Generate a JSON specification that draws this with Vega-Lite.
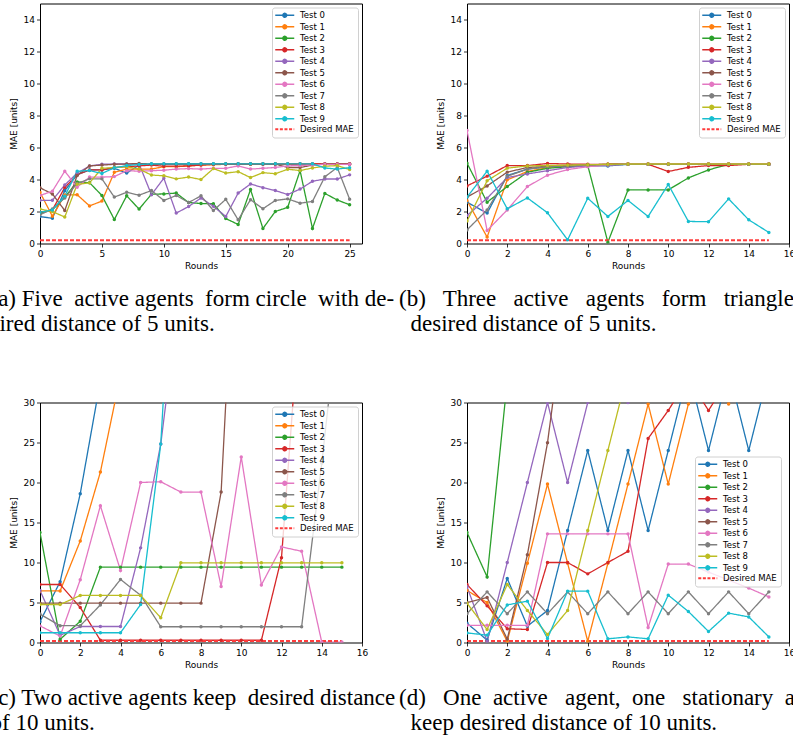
{
"$schema": "https://vega.github.io/schema/vega-lite/v6.json",
"autosize": {"type": "none"},
"padding": {"left": 40, "top": 3.5, "right": 753, "bottom": 739.5},
"background": "white",
"columns": 2,
"spacing": {"row": 159, "column": 105},
"bounds": "flush",
"resolve": {"scale": {"color": "independent"}, "legend": {"color": "independent"}},
"datasets": {
"a": [
{"s":"Test 0","r":0,"v":1.68},{"s":"Test 0","r":1,"v":1.58},{"s":"Test 0","r":2,"v":3.3},{"s":"Test 0","r":3,"v":4.3},{"s":"Test 0","r":4,"v":4.6},{"s":"Test 0","r":5,"v":4.6},{"s":"Test 0","r":6,"v":4.7},{"s":"Test 0","r":7,"v":4.4},{"s":"Test 0","r":8,"v":4.9},{"s":"Test 0","r":9,"v":4.95},{"s":"Test 0","r":10,"v":4.95},{"s":"Test 0","r":11,"v":4.97},{"s":"Test 0","r":12,"v":4.97},{"s":"Test 0","r":13,"v":4.97},{"s":"Test 0","r":14,"v":4.97},{"s":"Test 0","r":15,"v":4.97},{"s":"Test 0","r":16,"v":4.97},{"s":"Test 0","r":17,"v":4.97},{"s":"Test 0","r":18,"v":4.97},{"s":"Test 0","r":19,"v":4.97},{"s":"Test 0","r":20,"v":4.97},{"s":"Test 0","r":21,"v":4.97},{"s":"Test 0","r":22,"v":4.97},{"s":"Test 0","r":23,"v":4.97},{"s":"Test 0","r":24,"v":4.97},{"s":"Test 0","r":25,"v":4.97},
{"s":"Test 1","r":0,"v":3.2},{"s":"Test 1","r":1,"v":1.7},{"s":"Test 1","r":2,"v":3.03},{"s":"Test 1","r":3,"v":3.05},{"s":"Test 1","r":4,"v":2.35},{"s":"Test 1","r":5,"v":2.65},{"s":"Test 1","r":6,"v":4.45},{"s":"Test 1","r":7,"v":4.65},{"s":"Test 1","r":8,"v":4.65},{"s":"Test 1","r":9,"v":4.65},{"s":"Test 1","r":10,"v":4.8},{"s":"Test 1","r":11,"v":4.8},{"s":"Test 1","r":12,"v":4.85},{"s":"Test 1","r":13,"v":4.9},{"s":"Test 1","r":14,"v":4.92},{"s":"Test 1","r":15,"v":4.95},{"s":"Test 1","r":16,"v":4.95},{"s":"Test 1","r":17,"v":4.95},{"s":"Test 1","r":18,"v":4.97},{"s":"Test 1","r":19,"v":4.97},{"s":"Test 1","r":20,"v":4.97},{"s":"Test 1","r":21,"v":4.97},{"s":"Test 1","r":22,"v":4.97},{"s":"Test 1","r":23,"v":4.97},{"s":"Test 1","r":24,"v":4.97},{"s":"Test 1","r":25,"v":4.97},
{"s":"Test 2","r":0,"v":1.9},{"s":"Test 2","r":1,"v":2.1},{"s":"Test 2","r":2,"v":2.9},{"s":"Test 2","r":3,"v":3.85},{"s":"Test 2","r":4,"v":3.8},{"s":"Test 2","r":5,"v":3.0},{"s":"Test 2","r":6,"v":1.5},{"s":"Test 2","r":7,"v":2.98},{"s":"Test 2","r":8,"v":2.15},{"s":"Test 2","r":9,"v":3.08},{"s":"Test 2","r":10,"v":3.1},{"s":"Test 2","r":11,"v":3.15},{"s":"Test 2","r":12,"v":2.56},{"s":"Test 2","r":13,"v":2.5},{"s":"Test 2","r":14,"v":2.48},{"s":"Test 2","r":15,"v":1.56},{"s":"Test 2","r":16,"v":1.19},{"s":"Test 2","r":17,"v":3.37},{"s":"Test 2","r":18,"v":0.94},{"s":"Test 2","r":19,"v":2.0},{"s":"Test 2","r":20,"v":2.26},{"s":"Test 2","r":21,"v":4.55},{"s":"Test 2","r":22,"v":0.94},{"s":"Test 2","r":23,"v":3.13},{"s":"Test 2","r":24,"v":2.72},{"s":"Test 2","r":25,"v":2.42},
{"s":"Test 3","r":0,"v":1.95},{"s":"Test 3","r":1,"v":2.1},{"s":"Test 3","r":2,"v":3.5},{"s":"Test 3","r":3,"v":4.3},{"s":"Test 3","r":4,"v":4.6},{"s":"Test 3","r":5,"v":4.6},{"s":"Test 3","r":6,"v":4.75},{"s":"Test 3","r":7,"v":4.8},{"s":"Test 3","r":8,"v":4.85},{"s":"Test 3","r":9,"v":4.9},{"s":"Test 3","r":10,"v":4.83},{"s":"Test 3","r":11,"v":4.83},{"s":"Test 3","r":12,"v":4.85},{"s":"Test 3","r":13,"v":4.9},{"s":"Test 3","r":14,"v":4.95},{"s":"Test 3","r":15,"v":4.97},{"s":"Test 3","r":16,"v":4.97},{"s":"Test 3","r":17,"v":4.97},{"s":"Test 3","r":18,"v":4.97},{"s":"Test 3","r":19,"v":4.97},{"s":"Test 3","r":20,"v":4.97},{"s":"Test 3","r":21,"v":4.97},{"s":"Test 3","r":22,"v":4.97},{"s":"Test 3","r":23,"v":4.97},{"s":"Test 3","r":24,"v":4.97},{"s":"Test 3","r":25,"v":4.97},
{"s":"Test 4","r":0,"v":2.7},{"s":"Test 4","r":1,"v":2.7},{"s":"Test 4","r":2,"v":3.66},{"s":"Test 4","r":3,"v":4.4},{"s":"Test 4","r":4,"v":4.85},{"s":"Test 4","r":5,"v":4.95},{"s":"Test 4","r":6,"v":4.97},{"s":"Test 4","r":7,"v":4.97},{"s":"Test 4","r":8,"v":4.97},{"s":"Test 4","r":9,"v":3.05},{"s":"Test 4","r":10,"v":4.08},{"s":"Test 4","r":11,"v":1.9},{"s":"Test 4","r":12,"v":2.31},{"s":"Test 4","r":13,"v":2.84},{"s":"Test 4","r":14,"v":2.33},{"s":"Test 4","r":15,"v":1.69},{"s":"Test 4","r":16,"v":3.15},{"s":"Test 4","r":17,"v":3.72},{"s":"Test 4","r":18,"v":3.49},{"s":"Test 4","r":19,"v":3.31},{"s":"Test 4","r":20,"v":3.06},{"s":"Test 4","r":21,"v":3.4},{"s":"Test 4","r":22,"v":3.89},{"s":"Test 4","r":23,"v":4.03},{"s":"Test 4","r":24,"v":4.03},{"s":"Test 4","r":25,"v":4.29},
{"s":"Test 5","r":0,"v":3.48},{"s":"Test 5","r":1,"v":3.1},{"s":"Test 5","r":2,"v":2.06},{"s":"Test 5","r":3,"v":4.25},{"s":"Test 5","r":4,"v":4.85},{"s":"Test 5","r":5,"v":4.9},{"s":"Test 5","r":6,"v":4.95},{"s":"Test 5","r":7,"v":4.97},{"s":"Test 5","r":8,"v":5.0},{"s":"Test 5","r":9,"v":4.97},{"s":"Test 5","r":10,"v":4.97},{"s":"Test 5","r":11,"v":4.97},{"s":"Test 5","r":12,"v":4.97},{"s":"Test 5","r":13,"v":4.97},{"s":"Test 5","r":14,"v":4.97},{"s":"Test 5","r":15,"v":4.97},{"s":"Test 5","r":16,"v":4.97},{"s":"Test 5","r":17,"v":4.97},{"s":"Test 5","r":18,"v":4.97},{"s":"Test 5","r":19,"v":4.97},{"s":"Test 5","r":20,"v":4.75},{"s":"Test 5","r":21,"v":4.75},{"s":"Test 5","r":22,"v":4.9},{"s":"Test 5","r":23,"v":4.97},{"s":"Test 5","r":24,"v":4.97},{"s":"Test 5","r":25,"v":4.97},
{"s":"Test 6","r":0,"v":3.0},{"s":"Test 6","r":1,"v":3.27},{"s":"Test 6","r":2,"v":4.52},{"s":"Test 6","r":3,"v":3.52},{"s":"Test 6","r":4,"v":4.15},{"s":"Test 6","r":5,"v":4.15},{"s":"Test 6","r":6,"v":4.18},{"s":"Test 6","r":7,"v":4.55},{"s":"Test 6","r":8,"v":4.52},{"s":"Test 6","r":9,"v":4.55},{"s":"Test 6","r":10,"v":4.58},{"s":"Test 6","r":11,"v":4.65},{"s":"Test 6","r":12,"v":4.68},{"s":"Test 6","r":13,"v":4.65},{"s":"Test 6","r":14,"v":4.7},{"s":"Test 6","r":15,"v":4.7},{"s":"Test 6","r":16,"v":4.85},{"s":"Test 6","r":17,"v":4.65},{"s":"Test 6","r":18,"v":4.7},{"s":"Test 6","r":19,"v":4.75},{"s":"Test 6","r":20,"v":4.85},{"s":"Test 6","r":21,"v":4.88},{"s":"Test 6","r":22,"v":4.9},{"s":"Test 6","r":23,"v":4.95},{"s":"Test 6","r":24,"v":4.95},{"s":"Test 6","r":25,"v":4.95},
{"s":"Test 7","r":0,"v":1.8},{"s":"Test 7","r":1,"v":2.15},{"s":"Test 7","r":2,"v":2.85},{"s":"Test 7","r":3,"v":3.75},{"s":"Test 7","r":4,"v":4.04},{"s":"Test 7","r":5,"v":4.04},{"s":"Test 7","r":6,"v":2.9},{"s":"Test 7","r":7,"v":3.2},{"s":"Test 7","r":8,"v":3.02},{"s":"Test 7","r":9,"v":3.31},{"s":"Test 7","r":10,"v":2.69},{"s":"Test 7","r":11,"v":3.0},{"s":"Test 7","r":12,"v":2.56},{"s":"Test 7","r":13,"v":2.98},{"s":"Test 7","r":14,"v":2.06},{"s":"Test 7","r":15,"v":2.76},{"s":"Test 7","r":16,"v":1.48},{"s":"Test 7","r":17,"v":2.74},{"s":"Test 7","r":18,"v":2.17},{"s":"Test 7","r":19,"v":2.69},{"s":"Test 7","r":20,"v":2.79},{"s":"Test 7","r":21,"v":2.52},{"s":"Test 7","r":22,"v":2.63},{"s":"Test 7","r":23,"v":4.17},{"s":"Test 7","r":24,"v":4.75},{"s":"Test 7","r":25,"v":2.77},
{"s":"Test 8","r":0,"v":2.15},{"s":"Test 8","r":1,"v":2.0},{"s":"Test 8","r":2,"v":1.65},{"s":"Test 8","r":3,"v":3.7},{"s":"Test 8","r":4,"v":3.79},{"s":"Test 8","r":5,"v":4.7},{"s":"Test 8","r":6,"v":4.75},{"s":"Test 8","r":7,"v":4.8},{"s":"Test 8","r":8,"v":4.65},{"s":"Test 8","r":9,"v":4.28},{"s":"Test 8","r":10,"v":4.23},{"s":"Test 8","r":11,"v":4.04},{"s":"Test 8","r":12,"v":4.15},{"s":"Test 8","r":13,"v":4.0},{"s":"Test 8","r":14,"v":4.68},{"s":"Test 8","r":15,"v":4.4},{"s":"Test 8","r":16,"v":4.49},{"s":"Test 8","r":17,"v":4.12},{"s":"Test 8","r":18,"v":4.43},{"s":"Test 8","r":19,"v":4.36},{"s":"Test 8","r":20,"v":4.64},{"s":"Test 8","r":21,"v":4.56},{"s":"Test 8","r":22,"v":4.72},{"s":"Test 8","r":23,"v":4.83},{"s":"Test 8","r":24,"v":4.87},{"s":"Test 8","r":25,"v":4.62},
{"s":"Test 9","r":0,"v":1.95},{"s":"Test 9","r":1,"v":2.1},{"s":"Test 9","r":2,"v":2.96},{"s":"Test 9","r":3,"v":4.52},{"s":"Test 9","r":4,"v":4.56},{"s":"Test 9","r":5,"v":4.38},{"s":"Test 9","r":6,"v":4.73},{"s":"Test 9","r":7,"v":4.87},{"s":"Test 9","r":8,"v":4.94},{"s":"Test 9","r":9,"v":4.98},{"s":"Test 9","r":10,"v":4.98},{"s":"Test 9","r":11,"v":4.98},{"s":"Test 9","r":12,"v":4.98},{"s":"Test 9","r":13,"v":4.98},{"s":"Test 9","r":14,"v":4.98},{"s":"Test 9","r":15,"v":4.98},{"s":"Test 9","r":16,"v":4.98},{"s":"Test 9","r":17,"v":4.98},{"s":"Test 9","r":18,"v":4.98},{"s":"Test 9","r":19,"v":4.98},{"s":"Test 9","r":20,"v":4.98},{"s":"Test 9","r":21,"v":4.98},{"s":"Test 9","r":22,"v":4.98},{"s":"Test 9","r":23,"v":4.72},{"s":"Test 9","r":24,"v":4.65},{"s":"Test 9","r":25,"v":4.74},
{"s":"Desired MAE","r":0,"v":0.2},{"s":"Desired MAE","r":25,"v":0.2}
],
"b": [
{"s":"Test 0","r":0,"v":2.58},{"s":"Test 0","r":1,"v":1.9},{"s":"Test 0","r":2,"v":4.25},{"s":"Test 0","r":3,"v":4.65},{"s":"Test 0","r":4,"v":4.8},{"s":"Test 0","r":5,"v":4.82},{"s":"Test 0","r":6,"v":4.85},{"s":"Test 0","r":7,"v":4.85},{"s":"Test 0","r":8,"v":4.95},{"s":"Test 0","r":9,"v":4.95},{"s":"Test 0","r":10,"v":4.95},{"s":"Test 0","r":11,"v":4.95},{"s":"Test 0","r":12,"v":4.95},{"s":"Test 0","r":13,"v":4.95},{"s":"Test 0","r":14,"v":4.95},{"s":"Test 0","r":15,"v":4.95},
{"s":"Test 1","r":0,"v":2.68},{"s":"Test 1","r":1,"v":0.4},{"s":"Test 1","r":2,"v":3.98},{"s":"Test 1","r":3,"v":4.5},{"s":"Test 1","r":4,"v":4.75},{"s":"Test 1","r":5,"v":4.85},{"s":"Test 1","r":6,"v":4.9},{"s":"Test 1","r":7,"v":4.95},{"s":"Test 1","r":8,"v":4.97},{"s":"Test 1","r":9,"v":4.97},{"s":"Test 1","r":10,"v":4.97},{"s":"Test 1","r":11,"v":4.97},{"s":"Test 1","r":12,"v":4.97},{"s":"Test 1","r":13,"v":4.97},{"s":"Test 1","r":14,"v":4.97},{"s":"Test 1","r":15,"v":4.97},
{"s":"Test 2","r":0,"v":5.02},{"s":"Test 2","r":1,"v":2.58},{"s":"Test 2","r":2,"v":3.56},{"s":"Test 2","r":3,"v":4.45},{"s":"Test 2","r":4,"v":4.7},{"s":"Test 2","r":5,"v":4.8},{"s":"Test 2","r":6,"v":4.88},{"s":"Test 2","r":7,"v":0.08},{"s":"Test 2","r":8,"v":3.35},{"s":"Test 2","r":9,"v":3.35},{"s":"Test 2","r":10,"v":3.35},{"s":"Test 2","r":11,"v":4.1},{"s":"Test 2","r":12,"v":4.6},{"s":"Test 2","r":13,"v":4.95},{"s":"Test 2","r":14,"v":4.95},{"s":"Test 2","r":15,"v":4.95},
{"s":"Test 3","r":0,"v":3.6},{"s":"Test 3","r":1,"v":4.21},{"s":"Test 3","r":2,"v":4.87},{"s":"Test 3","r":3,"v":4.87},{"s":"Test 3","r":4,"v":5.0},{"s":"Test 3","r":5,"v":4.97},{"s":"Test 3","r":6,"v":4.95},{"s":"Test 3","r":7,"v":4.95},{"s":"Test 3","r":8,"v":4.97},{"s":"Test 3","r":9,"v":4.95},{"s":"Test 3","r":10,"v":4.5},{"s":"Test 3","r":11,"v":4.76},{"s":"Test 3","r":12,"v":4.87},{"s":"Test 3","r":13,"v":4.87},{"s":"Test 3","r":14,"v":4.95},{"s":"Test 3","r":15,"v":4.95},
{"s":"Test 4","r":0,"v":1.75},{"s":"Test 4","r":1,"v":2.83},{"s":"Test 4","r":2,"v":4.12},{"s":"Test 4","r":3,"v":4.35},{"s":"Test 4","r":4,"v":4.55},{"s":"Test 4","r":5,"v":4.75},{"s":"Test 4","r":6,"v":4.85},{"s":"Test 4","r":7,"v":4.9},{"s":"Test 4","r":8,"v":4.95},{"s":"Test 4","r":9,"v":4.95},{"s":"Test 4","r":10,"v":4.95},{"s":"Test 4","r":11,"v":4.95},{"s":"Test 4","r":12,"v":4.95},{"s":"Test 4","r":13,"v":4.95},{"s":"Test 4","r":14,"v":4.95},{"s":"Test 4","r":15,"v":4.95},
{"s":"Test 5","r":0,"v":2.9},{"s":"Test 5","r":1,"v":3.6},{"s":"Test 5","r":2,"v":4.46},{"s":"Test 5","r":3,"v":4.75},{"s":"Test 5","r":4,"v":4.82},{"s":"Test 5","r":5,"v":4.88},{"s":"Test 5","r":6,"v":4.92},{"s":"Test 5","r":7,"v":4.95},{"s":"Test 5","r":8,"v":4.97},{"s":"Test 5","r":9,"v":4.97},{"s":"Test 5","r":10,"v":4.97},{"s":"Test 5","r":11,"v":4.97},{"s":"Test 5","r":12,"v":4.97},{"s":"Test 5","r":13,"v":4.97},{"s":"Test 5","r":14,"v":4.97},{"s":"Test 5","r":15,"v":4.97},
{"s":"Test 6","r":0,"v":7.06},{"s":"Test 6","r":1,"v":0.81},{"s":"Test 6","r":2,"v":2.1},{"s":"Test 6","r":3,"v":3.56},{"s":"Test 6","r":4,"v":4.27},{"s":"Test 6","r":5,"v":4.62},{"s":"Test 6","r":6,"v":4.8},{"s":"Test 6","r":7,"v":4.9},{"s":"Test 6","r":8,"v":4.97},{"s":"Test 6","r":9,"v":4.97},{"s":"Test 6","r":10,"v":4.97},{"s":"Test 6","r":11,"v":4.97},{"s":"Test 6","r":12,"v":4.97},{"s":"Test 6","r":13,"v":4.97},{"s":"Test 6","r":14,"v":4.97},{"s":"Test 6","r":15,"v":4.97},
{"s":"Test 7","r":0,"v":0.85},{"s":"Test 7","r":1,"v":2.1},{"s":"Test 7","r":2,"v":4.2},{"s":"Test 7","r":3,"v":4.65},{"s":"Test 7","r":4,"v":4.8},{"s":"Test 7","r":5,"v":4.85},{"s":"Test 7","r":6,"v":4.9},{"s":"Test 7","r":7,"v":4.92},{"s":"Test 7","r":8,"v":4.95},{"s":"Test 7","r":9,"v":4.95},{"s":"Test 7","r":10,"v":4.95},{"s":"Test 7","r":11,"v":4.95},{"s":"Test 7","r":12,"v":4.95},{"s":"Test 7","r":13,"v":4.95},{"s":"Test 7","r":14,"v":4.95},{"s":"Test 7","r":15,"v":4.95},
{"s":"Test 8","r":0,"v":1.4},{"s":"Test 8","r":1,"v":3.92},{"s":"Test 8","r":2,"v":4.71},{"s":"Test 8","r":3,"v":4.85},{"s":"Test 8","r":4,"v":4.87},{"s":"Test 8","r":5,"v":4.9},{"s":"Test 8","r":6,"v":4.92},{"s":"Test 8","r":7,"v":4.95},{"s":"Test 8","r":8,"v":4.97},{"s":"Test 8","r":9,"v":4.97},{"s":"Test 8","r":10,"v":4.97},{"s":"Test 8","r":11,"v":4.97},{"s":"Test 8","r":12,"v":4.97},{"s":"Test 8","r":13,"v":4.97},{"s":"Test 8","r":14,"v":4.97},{"s":"Test 8","r":15,"v":4.97},
{"s":"Test 9","r":0,"v":2.9},{"s":"Test 9","r":1,"v":4.52},{"s":"Test 9","r":2,"v":2.17},{"s":"Test 9","r":3,"v":2.85},{"s":"Test 9","r":4,"v":1.92},{"s":"Test 9","r":5,"v":0.23},{"s":"Test 9","r":6,"v":2.83},{"s":"Test 9","r":7,"v":1.69},{"s":"Test 9","r":8,"v":2.69},{"s":"Test 9","r":9,"v":1.69},{"s":"Test 9","r":10,"v":3.69},{"s":"Test 9","r":11,"v":1.38},{"s":"Test 9","r":12,"v":1.36},{"s":"Test 9","r":13,"v":2.79},{"s":"Test 9","r":14,"v":1.48},{"s":"Test 9","r":15,"v":0.69},
{"s":"Desired MAE","r":0,"v":0.2},{"s":"Desired MAE","r":15,"v":0.2}
],
"c": [
{"s":"Test 0","r":0,"v":2.6},{"s":"Test 0","r":1,"v":7.6},{"s":"Test 0","r":2,"v":18.6},{"s":"Test 0","r":3,"v":32.7},
{"s":"Test 1","r":0,"v":6.45},{"s":"Test 1","r":1,"v":6.45},{"s":"Test 1","r":2,"v":12.7},{"s":"Test 1","r":3,"v":21.3},{"s":"Test 1","r":4,"v":33.4},
{"s":"Test 2","r":0,"v":13.75},{"s":"Test 2","r":1,"v":0.4},{"s":"Test 2","r":2,"v":2.65},{"s":"Test 2","r":3,"v":9.42},{"s":"Test 2","r":4,"v":9.42},{"s":"Test 2","r":5,"v":9.42},{"s":"Test 2","r":6,"v":9.42},{"s":"Test 2","r":7,"v":9.42},{"s":"Test 2","r":8,"v":9.42},{"s":"Test 2","r":9,"v":9.42},{"s":"Test 2","r":10,"v":9.42},{"s":"Test 2","r":11,"v":9.42},{"s":"Test 2","r":12,"v":9.42},{"s":"Test 2","r":13,"v":9.42},{"s":"Test 2","r":14,"v":9.42},{"s":"Test 2","r":15,"v":9.42},
{"s":"Test 3","r":0,"v":7.25},{"s":"Test 3","r":1,"v":7.25},{"s":"Test 3","r":2,"v":4.38},{"s":"Test 3","r":3,"v":0.28},{"s":"Test 3","r":4,"v":0.28},{"s":"Test 3","r":5,"v":0.28},{"s":"Test 3","r":6,"v":0.28},{"s":"Test 3","r":7,"v":0.28},{"s":"Test 3","r":8,"v":0.28},{"s":"Test 3","r":9,"v":0.28},{"s":"Test 3","r":10,"v":0.28},{"s":"Test 3","r":11,"v":0.28},{"s":"Test 3","r":12,"v":10.6},{"s":"Test 3","r":13,"v":44.6},
{"s":"Test 4","r":0,"v":6.5},{"s":"Test 4","r":1,"v":0.9},{"s":"Test 4","r":2,"v":2.0},{"s":"Test 4","r":3,"v":2.0},{"s":"Test 4","r":4,"v":2.0},{"s":"Test 4","r":5,"v":11.83},{"s":"Test 4","r":6,"v":24.8},{"s":"Test 4","r":7,"v":45},
{"s":"Test 5","r":0,"v":4.92},{"s":"Test 5","r":1,"v":4.92},{"s":"Test 5","r":2,"v":4.92},{"s":"Test 5","r":3,"v":4.92},{"s":"Test 5","r":4,"v":4.92},{"s":"Test 5","r":5,"v":4.92},{"s":"Test 5","r":6,"v":4.92},{"s":"Test 5","r":7,"v":4.92},{"s":"Test 5","r":8,"v":4.92},{"s":"Test 5","r":9,"v":18.8},{"s":"Test 5","r":10,"v":67},
{"s":"Test 6","r":0,"v":2.08},{"s":"Test 6","r":1,"v":0.8},{"s":"Test 6","r":2,"v":7.85},{"s":"Test 6","r":3,"v":17.1},{"s":"Test 6","r":4,"v":9.0},{"s":"Test 6","r":5,"v":20.0},{"s":"Test 6","r":6,"v":20.1},{"s":"Test 6","r":7,"v":18.8},{"s":"Test 6","r":8,"v":18.8},{"s":"Test 6","r":9,"v":7.0},{"s":"Test 6","r":10,"v":23.2},{"s":"Test 6","r":11,"v":7.2},{"s":"Test 6","r":12,"v":11.95},{"s":"Test 6","r":13,"v":11.4},{"s":"Test 6","r":14,"v":0.05},{"s":"Test 6","r":15,"v":0.05},
{"s":"Test 7","r":0,"v":3.55},{"s":"Test 7","r":1,"v":2.1},{"s":"Test 7","r":2,"v":2.1},{"s":"Test 7","r":3,"v":4.7},{"s":"Test 7","r":4,"v":7.88},{"s":"Test 7","r":5,"v":5.9},{"s":"Test 7","r":6,"v":1.97},{"s":"Test 7","r":7,"v":1.97},{"s":"Test 7","r":8,"v":1.97},{"s":"Test 7","r":9,"v":1.97},{"s":"Test 7","r":10,"v":1.97},{"s":"Test 7","r":11,"v":1.97},{"s":"Test 7","r":12,"v":1.97},{"s":"Test 7","r":13,"v":1.97},{"s":"Test 7","r":14,"v":22.4},{"s":"Test 7","r":15,"v":45},
{"s":"Test 8","r":0,"v":4.75},{"s":"Test 8","r":1,"v":4.75},{"s":"Test 8","r":2,"v":5.88},{"s":"Test 8","r":3,"v":5.88},{"s":"Test 8","r":4,"v":5.88},{"s":"Test 8","r":5,"v":5.88},{"s":"Test 8","r":6,"v":3.1},{"s":"Test 8","r":7,"v":9.96},{"s":"Test 8","r":8,"v":9.96},{"s":"Test 8","r":9,"v":9.96},{"s":"Test 8","r":10,"v":9.96},{"s":"Test 8","r":11,"v":9.96},{"s":"Test 8","r":12,"v":9.96},{"s":"Test 8","r":13,"v":9.96},{"s":"Test 8","r":14,"v":9.96},{"s":"Test 8","r":15,"v":9.96},
{"s":"Test 9","r":0,"v":1.22},{"s":"Test 9","r":1,"v":1.22},{"s":"Test 9","r":2,"v":1.22},{"s":"Test 9","r":3,"v":1.22},{"s":"Test 9","r":4,"v":1.22},{"s":"Test 9","r":5,"v":4.75},{"s":"Test 9","r":6,"v":24.8},{"s":"Test 9","r":7,"v":68},
{"s":"Desired MAE","r":0,"v":0.2},{"s":"Desired MAE","r":15,"v":0.2}
],
"d": [
{"s":"Test 0","r":0,"v":2.4},{"s":"Test 0","r":1,"v":0.3},{"s":"Test 0","r":2,"v":8.0},{"s":"Test 0","r":3,"v":2.04},{"s":"Test 0","r":4,"v":4.0},{"s":"Test 0","r":5,"v":14.0},{"s":"Test 0","r":6,"v":24.0},{"s":"Test 0","r":7,"v":14.0},{"s":"Test 0","r":8,"v":24.0},{"s":"Test 0","r":9,"v":14.0},{"s":"Test 0","r":10,"v":24.0},{"s":"Test 0","r":11,"v":34.0},{"s":"Test 0","r":12,"v":24.0},{"s":"Test 0","r":13,"v":34.0},{"s":"Test 0","r":14,"v":24.0},{"s":"Test 0","r":15,"v":34.0},
{"s":"Test 1","r":0,"v":6.5},{"s":"Test 1","r":1,"v":5.0},{"s":"Test 1","r":2,"v":0.15},{"s":"Test 1","r":3,"v":9.9},{"s":"Test 1","r":4,"v":19.8},{"s":"Test 1","r":5,"v":9.9},{"s":"Test 1","r":6,"v":0.15},{"s":"Test 1","r":7,"v":9.9},{"s":"Test 1","r":8,"v":19.8},{"s":"Test 1","r":9,"v":29.8},{"s":"Test 1","r":10,"v":19.8},{"s":"Test 1","r":11,"v":29.8},{"s":"Test 1","r":12,"v":39.8},{"s":"Test 1","r":13,"v":29.8},{"s":"Test 1","r":14,"v":39.8},{"s":"Test 1","r":15,"v":49.8},
{"s":"Test 2","r":0,"v":13.75},{"s":"Test 2","r":1,"v":8.2},{"s":"Test 2","r":2,"v":32.7},
{"s":"Test 3","r":0,"v":7.25},{"s":"Test 3","r":1,"v":4.58},{"s":"Test 3","r":2,"v":1.72},{"s":"Test 3","r":3,"v":1.63},{"s":"Test 3","r":4,"v":10.0},{"s":"Test 3","r":5,"v":10.0},{"s":"Test 3","r":6,"v":8.58},{"s":"Test 3","r":7,"v":10.0},{"s":"Test 3","r":8,"v":11.4},{"s":"Test 3","r":9,"v":25.5},{"s":"Test 3","r":10,"v":29.0},{"s":"Test 3","r":11,"v":33.0},{"s":"Test 3","r":12,"v":29.0},{"s":"Test 3","r":13,"v":33.0},{"s":"Test 3","r":14,"v":37.0},{"s":"Test 3","r":15,"v":41.0},
{"s":"Test 4","r":0,"v":6.96},{"s":"Test 4","r":1,"v":0.15},{"s":"Test 4","r":2,"v":10.0},{"s":"Test 4","r":3,"v":20.0},{"s":"Test 4","r":4,"v":30.0},{"s":"Test 4","r":5,"v":20.0},{"s":"Test 4","r":6,"v":30.0},{"s":"Test 4","r":7,"v":40.0},{"s":"Test 4","r":8,"v":30.0},{"s":"Test 4","r":9,"v":40.0},{"s":"Test 4","r":10,"v":50.0},
{"s":"Test 5","r":0,"v":5.0},{"s":"Test 5","r":1,"v":5.63},{"s":"Test 5","r":2,"v":0.42},{"s":"Test 5","r":3,"v":10.96},{"s":"Test 5","r":4,"v":24.96},{"s":"Test 5","r":5,"v":44},
{"s":"Test 6","r":0,"v":2.15},{"s":"Test 6","r":1,"v":2.15},{"s":"Test 6","r":2,"v":2.15},{"s":"Test 6","r":3,"v":2.15},{"s":"Test 6","r":4,"v":13.58},{"s":"Test 6","r":5,"v":13.58},{"s":"Test 6","r":6,"v":13.58},{"s":"Test 6","r":7,"v":13.58},{"s":"Test 6","r":8,"v":13.58},{"s":"Test 6","r":9,"v":1.88},{"s":"Test 6","r":10,"v":9.8},{"s":"Test 6","r":11,"v":9.8},{"s":"Test 6","r":12,"v":8.8},{"s":"Test 6","r":13,"v":7.8},{"s":"Test 6","r":14,"v":6.8},{"s":"Test 6","r":15,"v":5.7},
{"s":"Test 7","r":0,"v":3.6},{"s":"Test 7","r":1,"v":6.33},{"s":"Test 7","r":2,"v":3.6},{"s":"Test 7","r":3,"v":6.33},{"s":"Test 7","r":4,"v":3.6},{"s":"Test 7","r":5,"v":6.33},{"s":"Test 7","r":6,"v":3.6},{"s":"Test 7","r":7,"v":6.33},{"s":"Test 7","r":8,"v":3.6},{"s":"Test 7","r":9,"v":6.33},{"s":"Test 7","r":10,"v":3.6},{"s":"Test 7","r":11,"v":6.33},{"s":"Test 7","r":12,"v":3.6},{"s":"Test 7","r":13,"v":6.33},{"s":"Test 7","r":14,"v":3.6},{"s":"Test 7","r":15,"v":6.33},
{"s":"Test 8","r":0,"v":4.9},{"s":"Test 8","r":1,"v":1.63},{"s":"Test 8","r":2,"v":7.25},{"s":"Test 8","r":3,"v":4.0},{"s":"Test 8","r":4,"v":1.0},{"s":"Test 8","r":5,"v":4.0},{"s":"Test 8","r":6,"v":14.0},{"s":"Test 8","r":7,"v":24.0},{"s":"Test 8","r":8,"v":34.0},
{"s":"Test 9","r":0,"v":1.2},{"s":"Test 9","r":1,"v":0.92},{"s":"Test 9","r":2,"v":4.7},{"s":"Test 9","r":3,"v":5.17},{"s":"Test 9","r":4,"v":0.5},{"s":"Test 9","r":5,"v":6.42},{"s":"Test 9","r":6,"v":6.42},{"s":"Test 9","r":7,"v":0.46},{"s":"Test 9","r":8,"v":0.7},{"s":"Test 9","r":9,"v":0.46},{"s":"Test 9","r":10,"v":5.92},{"s":"Test 9","r":11,"v":3.88},{"s":"Test 9","r":12,"v":1.38},{"s":"Test 9","r":13,"v":3.67},{"s":"Test 9","r":14,"v":3.2},{"s":"Test 9","r":15,"v":0.7},
{"s":"Desired MAE","r":0,"v":0.2},{"s":"Desired MAE","r":15,"v":0.2}
]
},
"concat": [
{
"width": 322, "height": 240,
"data": {"name": "a"},
"title": {"text": ["(a) Five\u00a0 active agents\u00a0 form circle\u00a0 with de-", "sired distance of 5 units."], "dx": -49.5, "offset": 18},
"layer": [
{"mark": {"type": "line", "clip": true},
"encoding": {
"x": {"field": "r", "type": "quantitative", "scale": {"domain": [0, 26], "nice": false, "zero": false}, "axis": {"values": [0, 5, 10, 15, 20, 25], "tickCount": 30, "format": "d", "title": "Rounds"}},
"y": {"field": "v", "type": "quantitative", "scale": {"domain": [0, 15], "nice": false}, "axis": {"values": [0, 2, 4, 6, 8, 10, 12, 14], "tickCount": 30, "format": "d", "title": "MAE [units]"}},
"color": {"field": "s", "type": "nominal", "scale": {"domain": ["Test 0","Test 1","Test 2","Test 3","Test 4","Test 5","Test 6","Test 7","Test 8","Test 9","Desired MAE"], "range": ["#1f77b4","#ff7f0e","#2ca02c","#d62728","#9467bd","#8c564b","#e377c2","#7f7f7f","#bcbd22","#17becf","#ff3b3b"]},
"legend": {"title": null, "orient": "top-right", "encode": {"symbols": {"update": {
"shape": {"signal": "datum.value === 'Desired MAE' ? 'M-2,0H2' : 'M-2,0H2M-0.42,0A0.42,0.42,0,1,1,0.42,0A0.42,0.42,0,1,1,-0.42,0Z'"},
"fill": {"signal": "({'Test 0':'#1f77b4','Test 1':'#ff7f0e','Test 2':'#2ca02c','Test 3':'#d62728','Test 4':'#9467bd','Test 5':'#8c564b','Test 6':'#e377c2','Test 7':'#7f7f7f','Test 8':'#bcbd22','Test 9':'#17becf','Desired MAE':'#ff3b3b'})[datum.value]"},
"strokeDash": {"signal": "datum.value === 'Desired MAE' ? [3, 1.6] : [1, 0]"},
"strokeWidth": {"signal": "datum.value === 'Desired MAE' ? 1.8 : 1.3"}}}}}},
"strokeDash": {"condition": {"test": "datum.s === 'Desired MAE'", "value": [4, 2]}, "value": [1, 0]},
"strokeWidth": {"condition": {"test": "datum.s === 'Desired MAE'", "value": 2}, "value": 1.3}
}},
{"transform": [{"filter": "datum.s !== 'Desired MAE'"}],
"mark": {"type": "point", "filled": true, "size": 12, "opacity": 1, "clip": true},
"encoding": {
"x": {"field": "r", "type": "quantitative"},
"y": {"field": "v", "type": "quantitative"},
"color": {"field": "s", "type": "nominal", "legend": null}
}}
]
},
{
"width": 322, "height": 240,
"data": {"name": "b"},
"title": {"text": ["(b)\u00a0\u00a0 Three\u00a0\u00a0 active\u00a0\u00a0 agents\u00a0\u00a0 form\u00a0\u00a0 triangle\u00a0\u00a0 with", "\u200b\u00a0\u00a0desired distance of 5 units."], "dx": -68, "offset": 18},
"layer": [
{"mark": {"type": "line", "clip": true},
"encoding": {
"x": {"field": "r", "type": "quantitative", "scale": {"domain": [0, 16], "nice": false, "zero": false}, "axis": {"values": [0, 2, 4, 6, 8, 10, 12, 14, 16], "tickCount": 30, "format": "d", "title": "Rounds"}},
"y": {"field": "v", "type": "quantitative", "scale": {"domain": [0, 15], "nice": false}, "axis": {"values": [0, 2, 4, 6, 8, 10, 12, 14], "tickCount": 30, "format": "d", "title": "MAE [units]"}},
"color": {"field": "s", "type": "nominal", "scale": {"domain": ["Test 0","Test 1","Test 2","Test 3","Test 4","Test 5","Test 6","Test 7","Test 8","Test 9","Desired MAE"], "range": ["#1f77b4","#ff7f0e","#2ca02c","#d62728","#9467bd","#8c564b","#e377c2","#7f7f7f","#bcbd22","#17becf","#ff3b3b"]},
"legend": {"title": null, "orient": "top-right", "encode": {"symbols": {"update": {
"shape": {"signal": "datum.value === 'Desired MAE' ? 'M-2,0H2' : 'M-2,0H2M-0.42,0A0.42,0.42,0,1,1,0.42,0A0.42,0.42,0,1,1,-0.42,0Z'"},
"fill": {"signal": "({'Test 0':'#1f77b4','Test 1':'#ff7f0e','Test 2':'#2ca02c','Test 3':'#d62728','Test 4':'#9467bd','Test 5':'#8c564b','Test 6':'#e377c2','Test 7':'#7f7f7f','Test 8':'#bcbd22','Test 9':'#17becf','Desired MAE':'#ff3b3b'})[datum.value]"},
"strokeDash": {"signal": "datum.value === 'Desired MAE' ? [3, 1.6] : [1, 0]"},
"strokeWidth": {"signal": "datum.value === 'Desired MAE' ? 1.8 : 1.3"}}}}}},
"strokeDash": {"condition": {"test": "datum.s === 'Desired MAE'", "value": [4, 2]}, "value": [1, 0]},
"strokeWidth": {"condition": {"test": "datum.s === 'Desired MAE'", "value": 2}, "value": 1.3}
}},
{"transform": [{"filter": "datum.s !== 'Desired MAE'"}],
"mark": {"type": "point", "filled": true, "size": 12, "opacity": 1, "clip": true},
"encoding": {
"x": {"field": "r", "type": "quantitative"},
"y": {"field": "v", "type": "quantitative"},
"color": {"field": "s", "type": "nominal", "legend": null}
}}
]
},
{
"width": 322, "height": 240,
"data": {"name": "c"},
"title": {"text": ["(c) Two active agents keep\u00a0 desired distance", "of 10 units."], "dx": -49.5, "offset": 18},
"layer": [
{"mark": {"type": "line", "clip": true},
"encoding": {
"x": {"field": "r", "type": "quantitative", "scale": {"domain": [0, 16], "nice": false, "zero": false}, "axis": {"values": [0, 2, 4, 6, 8, 10, 12, 14, 16], "tickCount": 30, "format": "d", "title": "Rounds"}},
"y": {"field": "v", "type": "quantitative", "scale": {"domain": [0, 30], "nice": false}, "axis": {"values": [0, 5, 10, 15, 20, 25, 30], "tickCount": 30, "format": "d", "title": "MAE [units]"}},
"color": {"field": "s", "type": "nominal", "scale": {"domain": ["Test 0","Test 1","Test 2","Test 3","Test 4","Test 5","Test 6","Test 7","Test 8","Test 9","Desired MAE"], "range": ["#1f77b4","#ff7f0e","#2ca02c","#d62728","#9467bd","#8c564b","#e377c2","#7f7f7f","#bcbd22","#17becf","#ff3b3b"]},
"legend": {"title": null, "orient": "top-right", "encode": {"symbols": {"update": {
"shape": {"signal": "datum.value === 'Desired MAE' ? 'M-2,0H2' : 'M-2,0H2M-0.42,0A0.42,0.42,0,1,1,0.42,0A0.42,0.42,0,1,1,-0.42,0Z'"},
"fill": {"signal": "({'Test 0':'#1f77b4','Test 1':'#ff7f0e','Test 2':'#2ca02c','Test 3':'#d62728','Test 4':'#9467bd','Test 5':'#8c564b','Test 6':'#e377c2','Test 7':'#7f7f7f','Test 8':'#bcbd22','Test 9':'#17becf','Desired MAE':'#ff3b3b'})[datum.value]"},
"strokeDash": {"signal": "datum.value === 'Desired MAE' ? [3, 1.6] : [1, 0]"},
"strokeWidth": {"signal": "datum.value === 'Desired MAE' ? 1.8 : 1.3"}}}}}},
"strokeDash": {"condition": {"test": "datum.s === 'Desired MAE'", "value": [4, 2]}, "value": [1, 0]},
"strokeWidth": {"condition": {"test": "datum.s === 'Desired MAE'", "value": 2}, "value": 1.3}
}},
{"transform": [{"filter": "datum.s !== 'Desired MAE'"}],
"mark": {"type": "point", "filled": true, "size": 12, "opacity": 1, "clip": true},
"encoding": {
"x": {"field": "r", "type": "quantitative"},
"y": {"field": "v", "type": "quantitative"},
"color": {"field": "s", "type": "nominal", "legend": null}
}}
]
},
{
"width": 322, "height": 240,
"data": {"name": "d"},
"title": {"text": ["(d)\u00a0\u00a0 One\u00a0 active\u00a0\u00a0 agent,\u00a0 one\u00a0\u00a0 stationary\u00a0 agent", "\u200b\u00a0\u00a0keep desired distance of 10 units."], "dx": -68, "offset": 18},
"layer": [
{"mark": {"type": "line", "clip": true},
"encoding": {
"x": {"field": "r", "type": "quantitative", "scale": {"domain": [0, 16], "nice": false, "zero": false}, "axis": {"values": [0, 2, 4, 6, 8, 10, 12, 14, 16], "tickCount": 30, "format": "d", "title": "Rounds"}},
"y": {"field": "v", "type": "quantitative", "scale": {"domain": [0, 30], "nice": false}, "axis": {"values": [0, 5, 10, 15, 20, 25, 30], "tickCount": 30, "format": "d", "title": "MAE [units]"}},
"color": {"field": "s", "type": "nominal", "scale": {"domain": ["Test 0","Test 1","Test 2","Test 3","Test 4","Test 5","Test 6","Test 7","Test 8","Test 9","Desired MAE"], "range": ["#1f77b4","#ff7f0e","#2ca02c","#d62728","#9467bd","#8c564b","#e377c2","#7f7f7f","#bcbd22","#17becf","#ff3b3b"]},
"legend": {"title": null, "orient": "none", "legendX": 228, "legendY": 54, "encode": {"symbols": {"update": {
"shape": {"signal": "datum.value === 'Desired MAE' ? 'M-2,0H2' : 'M-2,0H2M-0.42,0A0.42,0.42,0,1,1,0.42,0A0.42,0.42,0,1,1,-0.42,0Z'"},
"fill": {"signal": "({'Test 0':'#1f77b4','Test 1':'#ff7f0e','Test 2':'#2ca02c','Test 3':'#d62728','Test 4':'#9467bd','Test 5':'#8c564b','Test 6':'#e377c2','Test 7':'#7f7f7f','Test 8':'#bcbd22','Test 9':'#17becf','Desired MAE':'#ff3b3b'})[datum.value]"},
"strokeDash": {"signal": "datum.value === 'Desired MAE' ? [3, 1.6] : [1, 0]"},
"strokeWidth": {"signal": "datum.value === 'Desired MAE' ? 1.8 : 1.3"}}}}}},
"strokeDash": {"condition": {"test": "datum.s === 'Desired MAE'", "value": [4, 2]}, "value": [1, 0]},
"strokeWidth": {"condition": {"test": "datum.s === 'Desired MAE'", "value": 2}, "value": 1.3}
}},
{"transform": [{"filter": "datum.s !== 'Desired MAE'"}],
"mark": {"type": "point", "filled": true, "size": 12, "opacity": 1, "clip": true},
"encoding": {
"x": {"field": "r", "type": "quantitative"},
"y": {"field": "v", "type": "quantitative"},
"color": {"field": "s", "type": "nominal", "legend": null}
}}
]
}
],
"config": {
"font": "DejaVu Sans",
"view": {"stroke": "black", "strokeWidth": 1},
"axis": {"domain": false, "grid": false, "ticks": true, "tickColor": "black", "tickSize": 3.5, "tickWidth": 0.8, "labelFont": "DejaVu Sans", "labelFontSize": 9, "labelColor": "black", "labelPadding": 2, "labelFlush": false, "labelOverlap": false, "titleFont": "DejaVu Sans", "titleFontSize": 9, "titleFontWeight": "normal", "titleColor": "black"},
"axisX": {"titlePadding": 3},
"axisY": {"titlePadding": 5},
"title": {"font": "Liberation Serif", "fontSize": 23, "fontWeight": "normal", "color": "black", "anchor": "start", "orient": "bottom", "frame": "group", "lineHeight": 25},
"legend": {"padding": 3.5, "rowPadding": 1.5, "labelFont": "DejaVu Sans", "labelFontSize": 8.5, "labelColor": "black", "strokeColor": "#d0d0d0", "fillColor": "rgba(255,255,255,0.8)", "cornerRadius": 2.5, "symbolSize": 90, "symbolStrokeWidth": 1.3, "labelOffset": 11, "symbolOffset": 5, "offset": 4}
}
}
